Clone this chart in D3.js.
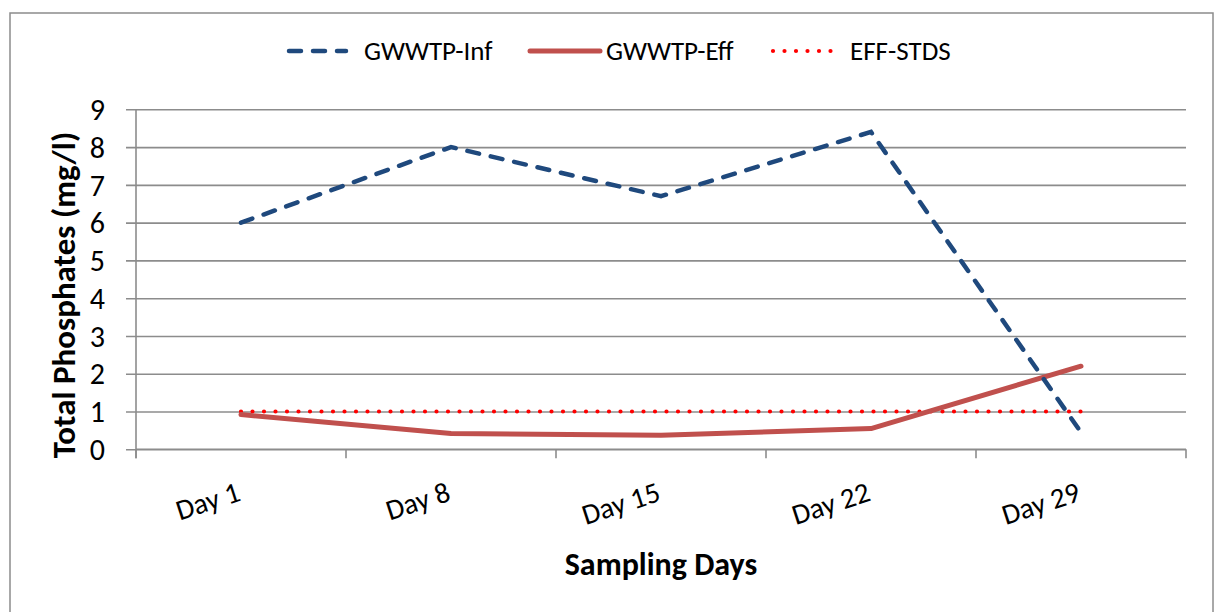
<!DOCTYPE html>
<html><head><meta charset="utf-8">
<script src="https://cdn.jsdelivr.net/npm/d3@7"></script>
<style>
body{margin:0;background:#fff;}
svg{display:block;font-family:Carlito, Lato, "Open Sans", sans-serif;}
</style></head>
<body>
<svg id="c" width="1221" height="612"></svg>
<script>
const categories = ["Day 1","Day 8","Day 15","Day 22","Day 29"];
const infValues = [6.0, 8.0, 6.7, 8.4, 0.45];
const effValues = [0.92, 0.42, 0.37, 0.55, 2.2];
const stdsValues = [1, 1, 1, 1, 1];
const yTicks = [0,1,2,3,4,5,6,7,8,9];
const seriesNames = ["GWWTP-Inf","GWWTP-Eff","EFF-STDS"];

(function(){
const svg = d3.select("#c");
const pL = 136, pR = 1186, pT = 109.3, pB = 449.3;

svg.append("rect").attr("x",10).attr("y",13).attr("width",1203).attr("height",620)
  .attr("fill","#fff").attr("stroke","#8c8c8c").attr("stroke-width",1.5);

const x = d3.scaleBand().domain(categories).range([pL,pR]).padding(0);
const y = d3.scaleLinear().domain([0,9]).range([pB,pT]);
const cx = d => x(d) + x.bandwidth()/2;

// gridlines + y axis
const yAxis = d3.axisLeft(y).tickValues(yTicks).tickSize(10).tickPadding(0).tickFormat(d3.format("d"));
const gy = svg.append("g").attr("transform",`translate(${pL},0)`).call(yAxis);
gy.select(".domain").remove();
gy.selectAll(".tick line").attr("x2", pR-pL).attr("x1",-10).attr("stroke","#8c8c8c").attr("stroke-width",1.6);
gy.selectAll(".tick text").attr("x",-31).attr("font-size",30).attr("fill","#000").attr("dy","0.34em")
  .attr("font-family","Carlito, Lato, sans-serif");
svg.append("line").attr("x1",pL).attr("x2",pL).attr("y1",pT).attr("y2",pB+9)
  .attr("stroke","#8c8c8c").attr("stroke-width",1.6);

// x axis
svg.append("line").attr("x1",pL).attr("x2",pR).attr("y1",pB).attr("y2",pB)
  .attr("stroke","#8c8c8c").attr("stroke-width",1.6);
const bounds = categories.map(c => x(c)).concat([pR]);
svg.selectAll(".xt").data(bounds).enter().append("line")
  .attr("x1",d=>d).attr("x2",d=>d).attr("y1",pB).attr("y2",pB+9)
  .attr("stroke","#8c8c8c").attr("stroke-width",1.6);
svg.selectAll(".xl").data(categories).enter().append("text")
  .attr("transform",d=>`translate(${cx(d)+1},${pB+51}) rotate(-18)`)
  .attr("text-anchor","end")
  .attr("font-size",29).text(d=>d);

// lines
const line = vals => d3.line().x((d,i)=>cx(categories[i])).y(d=>y(d))(vals);
svg.append("path").attr("d",line(stdsValues)).attr("fill","none")
  .attr("stroke","#ff0000").attr("stroke-width",4.2).attr("stroke-linecap","round")
  .attr("stroke-dasharray","0 11.5");
svg.append("path").attr("d",line(effValues)).attr("fill","none")
  .attr("stroke","#c0504d").attr("stroke-width",5).attr("stroke-linecap","round").attr("stroke-linejoin","round");
svg.append("path").attr("d",line(infValues)).attr("fill","none")
  .attr("stroke","#1f497d").attr("stroke-width",4.5).attr("stroke-linecap","round")
  .attr("stroke-dasharray","12 12");

// titles
svg.append("text").attr("x",661).attr("y",575).attr("text-anchor","middle")
  .attr("font-size",32).attr("font-weight","bold").text("Sampling Days");
svg.append("text").attr("transform","translate(75,295) rotate(-90)").attr("text-anchor","middle")
  .attr("font-size",33).attr("font-weight","bold").text("Total Phosphates (mg/l)");

// legend
const legY = 51;
const leg = [
  {name:seriesNames[0], x1:289, x2:346, tx:364, color:"#1f497d", w:4.5, dash:"12 12"},
  {name:seriesNames[1], x1:530, x2:600, tx:606, color:"#c0504d", w:5, dash:null},
  {name:seriesNames[2], x1:773, x2:834, tx:850, color:"#ff0000", w:4.2, dash:"0 11.5"}
];
leg.forEach(l=>{
  const ln = svg.append("line").attr("x1",l.x1).attr("x2",l.x2).attr("y1",legY).attr("y2",legY)
    .attr("stroke",l.color).attr("stroke-width",l.w).attr("stroke-linecap","round");
  if(l.dash) ln.attr("stroke-dasharray",l.dash);
  svg.append("text").attr("x",l.tx).attr("y",legY).attr("dy","0.35em").attr("font-size",27).text(l.name);
});
})();
</script>
</body></html>
